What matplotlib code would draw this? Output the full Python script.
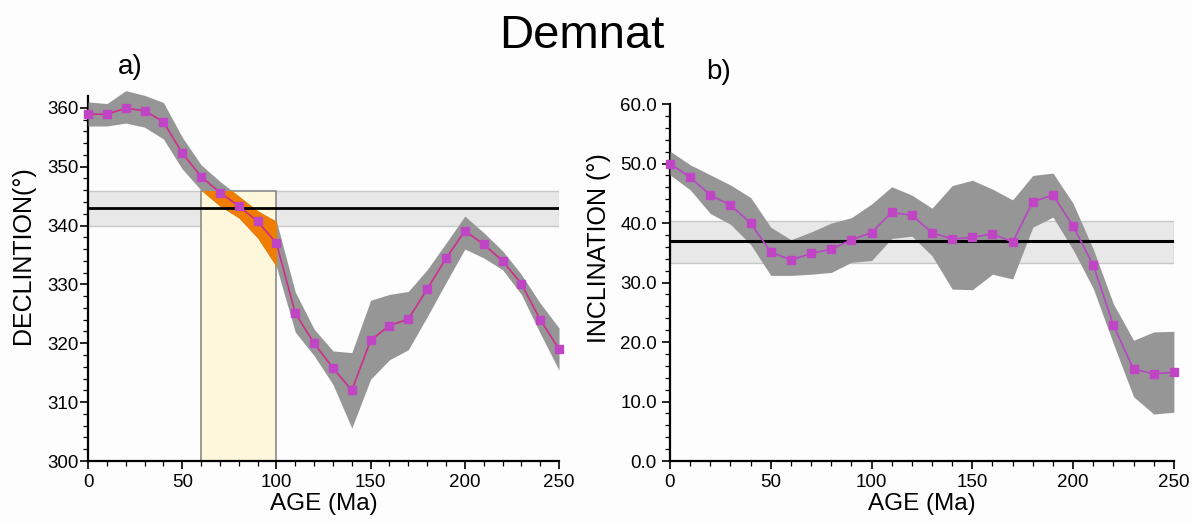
import numpy as np
import matplotlib.pyplot as plt
from matplotlib.patches import Rectangle

plt.rcParams['font.family'] = ['Liberation Sans', 'DejaVu Sans']

# ages in Ma
ages = list(range(0, 260, 10))

# declination (a)
dec = [358.9, 358.9, 359.9, 359.5, 357.6, 352.3, 348.3, 345.6, 343.3, 340.7, 337.0, 325.1, 320.0,
       315.8, 312.0, 320.5, 323.0, 324.1, 329.2, 334.4, 339.1, 336.8, 334.0, 330.1, 324.0, 319.0]
dec_hi = [361.0, 360.7, 362.9, 362.1, 360.9, 355.0, 350.3, 347.5, 345.0, 342.5, 340.7, 328.7, 322.4,
          318.7, 318.4, 327.3, 328.3, 328.8, 332.5, 337.0, 341.6, 338.8, 335.7, 331.7, 326.8, 322.6]
dec_lo = [356.9, 356.9, 357.4, 356.7, 354.7, 349.6, 346.0, 343.3, 341.3, 337.9, 333.0, 321.9, 317.9,
          313.0, 305.6, 313.9, 317.2, 318.9, 324.5, 330.3, 336.0, 334.5, 332.5, 328.3, 321.7, 315.4]
dec_ref = 342.9
dec_band = (340.0, 345.8)
window = (60, 100)

# inclination (b)
inc = [50.0, 47.7, 44.7, 43.0, 40.0, 35.1, 33.8, 34.9, 35.6, 37.2, 38.4, 41.8, 41.3,
       38.4, 37.3, 37.6, 38.2, 36.8, 43.6, 44.7, 39.5, 32.9, 22.8, 15.4, 14.7, 14.9]
inc_hi = [52.1, 49.8, 48.1, 46.4, 44.3, 39.3, 37.2, 38.5, 40.0, 40.9, 43.2, 46.1, 44.7,
          42.5, 46.3, 47.2, 45.7, 43.9, 48.0, 48.4, 43.3, 35.6, 26.4, 20.3, 21.7, 21.8]
inc_lo = [48.1, 45.6, 41.6, 39.8, 36.4, 31.2, 31.2, 31.4, 31.7, 33.4, 33.7, 37.4, 37.8,
          34.5, 28.9, 28.8, 31.4, 30.6, 39.3, 41.0, 35.5, 29.0, 19.7, 10.8, 7.9, 8.2]
inc_ref = 37.0
inc_band = (33.3, 40.3)

BG = '#fdfdfd'
ENV = '#969696'

fig = plt.figure(figsize=(11.93, 5.23), dpi=100, facecolor=BG)
ax1 = fig.add_axes([0.0738, 0.1185, 0.3948, 0.698])
ax2 = fig.add_axes([0.5616, 0.1185, 0.4224, 0.6825])


def style(ax):
    ax.set_facecolor(BG)
    for s in ['top', 'right']:
        ax.spines[s].set_visible(False)
    for s in ['left', 'bottom']:
        ax.spines[s].set_linewidth(1.6)
    ax.set_xlim(0, 250)
    ax.set_xticks([0, 50, 100, 150, 200, 250])
    ax.set_xticks(range(0, 251, 10), minor=True)
    ax.tick_params(which='major', length=6, width=1.2, labelsize=13.5, direction='out')
    ax.tick_params(which='minor', length=3.5, width=0.9, direction='out')
    ax.set_xlabel('AGE (Ma)', fontsize=17.5, labelpad=1)


# ---- a) declination
style(ax1)
ax1.set_ylim(300, 362)
ax1.set_yticks(range(300, 361, 10))
ax1.set_yticks(range(300, 362, 2), minor=True)
ax1.tick_params(axis='y', pad=1)
ax1.set_ylabel('DECLINTION(°)', fontsize=18)
ax1.yaxis.set_label_coords(-0.113, 0.564)

ax1.add_patch(Rectangle((0, dec_band[0]), 250, dec_band[1] - dec_band[0],
                        facecolor='#e8e8e8', edgecolor='#c8c8c8', lw=1, zorder=1))
rect = Rectangle((window[0], 300), window[1] - window[0], dec_band[1] - 300,
                 facecolor='#fef7dc', edgecolor='#8a8a8a', lw=1.2, zorder=2)
ax1.add_patch(rect)
ax1.fill_between(ages, dec_lo, dec_hi, color=ENV, lw=0, zorder=3, clip_on=False)
orange = ax1.fill_between(ages, dec_lo, dec_hi, color='#ef7d00', lw=0, zorder=4)
orange.set_clip_path(rect)
ax1.axhline(dec_ref, color='black', lw=2, zorder=5)
ax1.plot(ages, dec, color='#d02c8c', lw=1.2, marker='s', ms=5.5,
         mfc='#bf45c4', mec='#bf45c4', zorder=6, clip_on=False)

# ---- b) inclination
style(ax2)
ax2.set_ylim(0, 60)
ax2.set_yticks(range(0, 61, 10))
ax2.set_yticks(range(0, 61, 2), minor=True)
ax2.yaxis.set_major_formatter(plt.FormatStrFormatter('%.1f'))
ax2.set_ylabel('INCLINATION (°)', fontsize=18)
ax2.yaxis.set_label_coords(-0.118, 0.597)

ax2.add_patch(Rectangle((0, inc_band[0]), 250, inc_band[1] - inc_band[0],
                        facecolor='#e8e8e8', edgecolor='#c8c8c8', lw=1, zorder=1))
ax2.fill_between(ages, inc_lo, inc_hi, color=ENV, lw=0, zorder=3)
ax2.axhline(inc_ref, color='black', lw=2.2, zorder=5)
ax2.plot(ages, inc, color='#b845c4', lw=1.2, marker='s', ms=5.5,
         mfc='#bf45c4', mec='#bf45c4', zorder=6, clip_on=False)

fig.text(0.488, 0.932, 'Demnat', fontsize=34, ha='center', va='center')
fig.text(0.109, 0.872, 'a)', fontsize=20, ha='center', va='center')
fig.text(0.602, 0.862, 'b)', fontsize=20, ha='center', va='center')

fig.savefig('out.png', dpi=100, facecolor=BG)
